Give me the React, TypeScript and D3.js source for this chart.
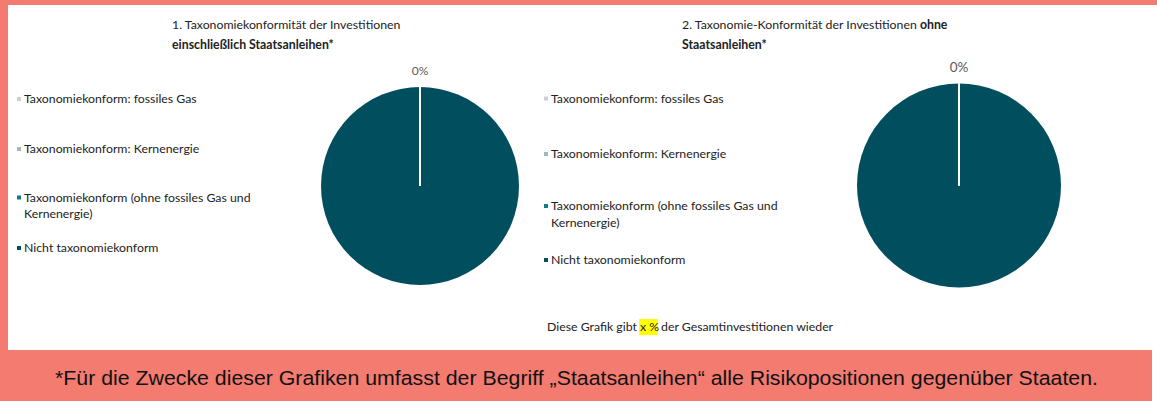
import React from "react";
import * as d3 from "d3";

const categories = [
  "Taxonomiekonform: fossiles Gas",
  "Taxonomiekonform: Kernenergie",
  "Taxonomiekonform (ohne fossiles Gas und Kernenergie)",
  "Nicht taxonomiekonform",
];
const legendLines = [
  ["Taxonomiekonform: fossiles Gas"],
  ["Taxonomiekonform: Kernenergie"],
  ["Taxonomiekonform (ohne fossiles Gas und", "Kernenergie)"],
  ["Nicht taxonomiekonform"],
];
const colors = ["#c9d0d4", "#a3b6bd", "#14798c", "#004e5e"];
const valuesIncl = [0, 0, 0, 100];
const valuesExcl = [0, 0, 0, 100];
const zeroLabel = "0%";

const SALMON = "#f37b70";
const FONT = "Lato, 'Open Sans', sans-serif";
const FS = 12.3;

type PieProps = {
  cx: number;
  cy: number;
  r: number;
  values: number[];
  labelSize: number;
  labelOffset: number;
};

function Pie({ cx, cy, r, values, labelSize, labelOffset }: PieProps) {
  const pie = d3.pie<number>().sort(null).value((d) => d);
  const arcs = pie(values);
  const arc = d3.arc<d3.PieArcDatum<number>>().innerRadius(0).outerRadius(r);
  const labelArc = d3
    .arc<d3.PieArcDatum<number>>()
    .innerRadius(r + labelOffset)
    .outerRadius(r + labelOffset);
  const zeros = arcs.filter((a) => a.value === 0);
  const firstZero = zeros[0];
  return (
    <g transform={`translate(${cx},${cy})`}>
      {arcs
        .filter((a) => a.value > 0)
        .map((a, i) => (
          <path key={i} d={arc(a) || ""} fill={colors[a.index]} />
        ))}
      {zeros.map((a, i) => (
        <line
          key={"z" + i}
          x1={0}
          y1={0}
          x2={r * Math.sin(a.startAngle)}
          y2={-r * Math.cos(a.startAngle)}
          stroke="#ffffff"
          strokeWidth={2}
        />
      ))}
      {firstZero && (
        <text
          x={labelArc.centroid(firstZero)[0]}
          y={labelArc.centroid(firstZero)[1]}
          textAnchor="middle"
          fontSize={labelSize}
          fill="#595959"
          fontFamily={FONT}
        >
          {zeroLabel}
        </text>
      )}
    </g>
  );
}

function Legend({ x, ys }: { x: number; ys: number[][] }) {
  return (
    <g fontFamily={FONT} fontSize={FS} fill="#222">
      {categories.map((c, i) => (
        <g key={c}>
          <rect x={x} y={ys[i][0] - 6} width={4} height={4} fill={colors[i]} />
          {legendLines[i].map((ln, j) => (
            <text key={j} x={x + 7} y={ys[i][j]}>
              {ln}
            </text>
          ))}
        </g>
      ))}
    </g>
  );
}

export default function App() {
  return (
    <svg
      width={1157}
      height={401}
      style={{ position: "absolute", left: 0, top: 0 }}
    >
      <rect x={0} y={0} width={1157} height={401} fill="#ffffff" />
      <rect x={0} y={0} width={1157} height={5} fill={SALMON} />
      <rect x={0} y={0} width={8} height={401} fill={SALMON} />
      <rect x={0} y={350} width={1152} height={51} fill={SALMON} />

      <g fontFamily={FONT} fontSize={FS} fill="#222">
        <text x={172} y={28.5}>1. Taxonomiekonformität der Investitionen</text>
        <text x={172} y={48.5} fontWeight="bold">einschließlich Staatsanleihen*</text>
        <text x={682} y={28.5}>
          2. Taxonomie-Konformität der Investitionen <tspan fontWeight="bold">ohne</tspan>
        </text>
        <text x={682} y={48.5} fontWeight="bold">Staatsanleihen*</text>
      </g>

      <Legend x={17} ys={[[103], [153], [201.5, 218], [252]]} />
      <Legend x={544} ys={[[102.5], [158], [210, 226.5], [264]]} />

      <Pie cx={420} cy={186} r={99} values={valuesIncl} labelSize={12} labelOffset={12} />
      <Pie cx={959} cy={185.5} r={102} values={valuesExcl} labelSize={13.5} labelOffset={12} />

      <rect x={639} y={319} width={19} height={16} fill="#ffff00" />
      <g fontFamily={FONT} fontSize={FS} fill="#222">
        <text x={547} y={331}>Diese Grafik gibt</text>
        <text x={640} y={331}>x %</text>
        <text x={661} y={331}>der Gesamtinvestitionen wieder</text>
      </g>

      <text
        x={576.5}
        y={384.5}
        textAnchor="middle"
        fontFamily="'Liberation Sans Narrow', 'Liberation Sans', Arial, sans-serif"
        fontSize={20.5}
        fill="#111"
        textLength={1043}
        lengthAdjust="spacingAndGlyphs"
      >
        *Für die Zwecke dieser Grafiken umfasst der Begriff „Staatsanleihen“ alle Risikopositionen gegenüber Staaten.
      </text>
    </svg>
  );
}
